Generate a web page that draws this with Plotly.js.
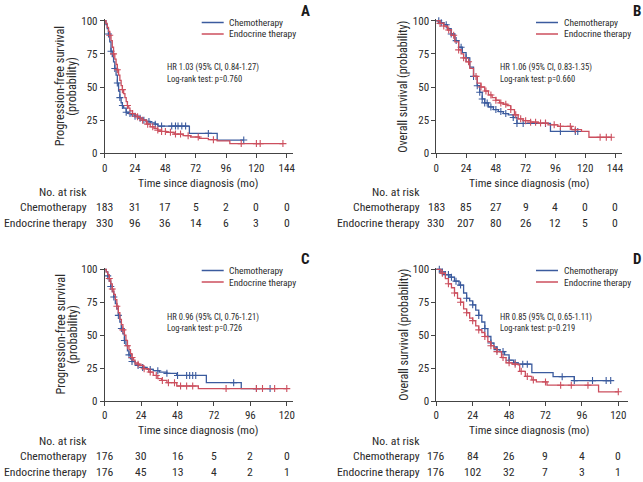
<!DOCTYPE html>
<html><head><meta charset="utf-8">
<script src="https://cdn.plot.ly/plotly-3.0.1.min.js"></script>
<style>html,body{margin:0;padding:0;background:#fff}#chart{width:643px;height:482px}</style>
</head><body><div id="chart"></div>
<script>
// ---------------- DATA ----------------
const groups = ["Chemotherapy", "Endocrine therapy"];
const panelLetters = ["A", "B", "C", "D"];
const hrText = ["HR 1.03 (95% CI, 0.84-1.27)", "HR 1.06 (95% CI, 0.83-1.35)", "HR 0.96 (95% CI, 0.76-1.21)", "HR 0.85 (95% CI, 0.65-1.11)"];
const pText = ["Log-rank test: p=0.760", "Log-rank test: p=0.660", "Log-rank test: p=0.726", "Log-rank test: p=0.219"];
const yTitles = [["Progression-free survival", "(probability)"], ["Overall survival (probability)"], ["Progression-free survival", "(probability)"], ["Overall survival (probability)"]];
const xTitle = "Time since diagnosis (mo)";
const riskLabel = "No. at risk";
const ticksTop = [0, 24, 48, 72, 96, 120, 144];
const ticksBottom = [0, 24, 48, 72, 96, 120];
const yTicks = [0, 25, 50, 75, 100];

// Panel A: progression-free survival
const aChemoT = [0,1,2,3,4,5,6,7,8,9,10,11,12,13,14,15,17,19,21,24,27,30,33,36,40,42,67,89,110];
const aChemoS = [100,97,94,90,84,77,73,69,64,59,53,47,42,38,36,34,31,30,29,28,26.5,25,24,23,22,20.5,15,10,10];
const aEndoT = [0,1,2,3,4,5,6,7,8,9,10,11,12,13,14,15,16,17,18,19,20,22,24,26,28,30,33,36,39,42,45,49,55,62,68,75,82,89,99,141];
const aEndoS = [100,98,95,92,89,85,80,75,71,67,63,59,55,51,48,45,42,39,36,34,32,30,29,27.5,26,25,22,20,18.8,17.5,16.5,15.8,14.5,13.3,12.3,11.3,10.3,9.3,7.3,7.3];
const aChemoCens = [3,5,8,10,12,14,17,20,24,28,31,35,40,45,53,56,58,61,64,82,110];
const aEndoCens = [4,7,10,14,18,22,26,30,34,38,42,45,48,52,56,60,66,74,86,108,120,123,141];
const aRiskChemo = [183, 31, 17, 5, 2, 0, 0];
const aRiskEndo = [330, 96, 36, 14, 6, 3, 0];

// Panel B: overall survival
const bChemoT = [0,3,6,9,12,15,18,21,24,27,30,33,35,37,39,42,46,50,54,58,62,65,92,114];
const bChemoS = [100,98.5,97,94,90,85,80,76,72,65,58,51,46,41,38,35,33,31.5,30,29,27,22.5,16.5,16.5];
const bEndoT = [0,3,6,9,12,15,18,20,22,24,27,30,33,36,39,42,45,48,51,54,57,60,63,66,70,76,82,90,98,109,117,123,141];
const bEndoS = [100,98,96,93,89,84,78,75,72,69,64,58,53,50,47,44,42,40,38,37,36,33,29,26,24.6,23.5,22.8,21.5,20.3,17.8,16.6,12.1,12.1];
const bChemoCens = [2,4,8,12,16,20,24,30,33,35,37,39,41,44,48,52,56,62,65,70,88,100,112,114];
const bEndoCens = [3,6,10,14,18,22,26,32,36,40,44,48,52,56,60,64,68,72,76,80,84,88,95,100,108,112,132,137,141];
const bRiskChemo = [183, 85, 27, 9, 4, 0, 0];
const bRiskEndo = [330, 207, 80, 26, 12, 5, 0];

// Panel C: progression-free survival
const cChemoT = [0,1,2,3,4,5,6,7,8,9,10,11,12,13,14,15,16,17,18,20,22,25,28,32,36,41,47.5,67,90,109];
const cChemoS = [100,98,95,91,87,83,79,74,70,65,60,55,51,46,42,38,35,32,30,28,27,25.5,24,23,22,21,19.4,13.9,9.4,9.4];
const cEndoT = [0,1,2,3,4,5,6,7,8,9,10,11,12,13,14,15,16,17,18,19,20,22,23,25.5,29,32,35,37.5,41,47.5,61.7,120];
const cEndoS = [100,98,96,93,89,85,81,77,72,67,62,58,54,50,46,42,39,36,33,31,29,28,27,24.5,22,19.4,17,15.6,13.9,11.4,9.4,9.4];
const cChemoCens = [2,4,6,9,11,13,16,18,22,25,30,35,41,48,54,56,58,60,85,100,109];
const cEndoCens = [3,5,8,12,15,18,22,26,30,34,38,42,46,50,54,58,80,100,104,112,120];
const cRiskChemo = [176, 30, 16, 5, 2, 0];
const cRiskEndo = [176, 45, 13, 4, 2, 1];

// Panel D: overall survival
const dChemoT = [0,3,6,9,12,15,18,20,22,24,26,28,30,32,34,36,38,40,42,45,48,51,54,63,77,91,115];
const dChemoS = [100,98,96,94,91,88,82,78,76,73,69,65,60,55,49,44,41,39,37.5,35,31,29,28,21.5,18.5,15.5,15.5];
const dEndoT = [0,3,6,8,10,12,14,16,18,20,22,24,26,28,30,32,34,36,38,40,43,46,50,54,55,58.7,63,66,73,107,120];
const dEndoS = [100,97,93,89,86,82,78,75,70,67,63,61,57,54,52,49,45,42,40,37.5,33,29,28,27.5,22.5,18.7,16,14.5,12,7,7];
const dChemoCens = [2,4,6,8,10,13,16,20,24,28,32,36,40,44,48,52,57,60,83,91,103,112,115];
const dEndoCens = [4,8,12,16,20,24,28,32,36,40,44,48,52,56,60,64,72,82,89,100,120];
const dRiskChemo = [176, 84, 26, 9, 4, 0];
const dRiskEndo = [176, 102, 32, 7, 3, 1];

// ---------------- STYLE / LAYOUT ----------------
const W = 643, H = 482;
const F = "'Roboto Condensed', 'DejaVu Sans Condensed', sans-serif";
const BLUE = "#3b5b9e", RED = "#cc4f5e", AX = "#444", TXT = "#2b2b2b";
const px = v => v / W, py = v => 1 - v / H;

const panels = [
  {sx: "", curves: [[aChemoT, aChemoS, aChemoCens], [aEndoT, aEndoS, aEndoCens]], risk: [aRiskChemo, aRiskEndo], ticks: ticksTop,
   x0: 104.7, x1: 293.3, range: 149.2, yb: 153.3, yt: 19.4, left: 0, top: 0},
  {sx: "2", curves: [[bChemoT, bChemoS, bChemoCens], [bEndoT, bEndoS, bEndoCens]], risk: [bRiskChemo, bRiskEndo], ticks: ticksTop,
   x0: 436.3, x1: 621.7, range: 149.4, yb: 153.3, yt: 19.4, left: 331.6, top: 0},
  {sx: "3", curves: [[cChemoT, cChemoS, cChemoCens], [cEndoT, cEndoS, cEndoCens]], risk: [cRiskChemo, cRiskEndo], ticks: ticksBottom,
   x0: 104.7, x1: 293.3, range: 124.3, yb: 401, yt: 268, left: 0, top: 248},
  {sx: "4", curves: [[dChemoT, dChemoS, dChemoCens], [dEndoT, dEndoS, dEndoCens]], risk: [dRiskChemo, dRiskEndo], ticks: ticksBottom,
   x0: 436.3, x1: 628.3, range: 126.6, yb: 401, yt: 268, left: 331.6, top: 248}
];
const colors = [BLUE, RED];

function stepAt(t, s, tc) { let v = s[0]; for (let i = 0; i < t.length; i++) { if (t[i] <= tc) v = s[i]; } return v; }

const data = [], annotations = [], shapes = [];
const layout = {width: W, height: H, margin: {l: 0, r: 0, t: 0, b: 0}, paper_bgcolor: "#fff", plot_bgcolor: "#fff",
  showlegend: false, font: {family: F, color: TXT}};

panels.forEach((p, k) => {
  const xa = "x" + p.sx, ya = "y" + p.sx;
  p.curves.forEach((c, g) => {
    data.push({type: "scatter", mode: "lines", x: c[0], y: c[1], xaxis: xa, yaxis: ya,
      line: {shape: "hv", color: colors[g], width: 1.3}, cliponaxis: false, name: groups[g]});
    data.push({type: "scatter", mode: "markers", x: c[2], y: c[2].map(tc => stepAt(c[0], c[1], tc)), xaxis: xa, yaxis: ya,
      marker: {symbol: "cross-thin", size: 5, line: {width: 1.1, color: colors[g]}, color: colors[g]}, cliponaxis: false, name: groups[g]});
  });
  const axCommon = {showgrid: false, zeroline: false, showline: true, linecolor: AX, linewidth: 1, ticks: "outside", ticklen: 4, tickcolor: AX,
    tickfont: {family: F, size: 11, color: TXT}, fixedrange: true};
  layout["xaxis" + p.sx] = Object.assign({}, axCommon, {domain: [px(p.x0), px(p.x1)], range: [0, p.range], tickvals: p.ticks, anchor: ya});
  layout["yaxis" + p.sx] = Object.assign({}, axCommon, {domain: [py(p.yb), py(p.yt)], range: [0, 101], tickvals: yTicks, anchor: xa});

  const L = p.left, T = p.top;
  // panel letter
  annotations.push({xref: "paper", yref: "paper", x: px(L + 305), y: py(T + 11), text: "<b>" + panelLetters[k] + "</b>", showarrow: false,
    font: {family: F, size: 15, color: "#1a1a1a"}, xanchor: "center", yanchor: "middle"});
  // legend
  const legX0 = L + (k % 2 ? 204.4 : 201.7), legX1 = legX0 + 22;
  const legY = [T + 22.5, T + 34];
  groups.forEach((g, i) => {
    shapes.push({type: "line", xref: "paper", yref: "paper", x0: px(legX0), x1: px(legX1), y0: py(legY[i]), y1: py(legY[i]), line: {color: colors[i], width: 1.5}});
    annotations.push({xref: "paper", yref: "paper", x: px(legX1 + 3.5), y: py(legY[i]), text: g, showarrow: false,
      font: {family: F, size: 9.5, color: TXT}, xanchor: "left", yanchor: "middle"});
  });
  // HR text
  const hx = L + (k % 2 ? 166.7 : 165);
  const hy = T + (k < 2 ? 68 : 69);
  annotations.push({xref: "paper", yref: "paper", x: px(hx), y: py(hy), text: hrText[k], showarrow: false, font: {family: F, size: 8.5, color: TXT}, xanchor: "left", yanchor: "middle"});
  annotations.push({xref: "paper", yref: "paper", x: px(hx), y: py(hy + 11.3), text: pText[k], showarrow: false, font: {family: F, size: 8.5, color: TXT}, xanchor: "left", yanchor: "middle"});
  // y title
  const yc = (p.yb + p.yt) / 2;
  if (yTitles[k].length === 2) {
    annotations.push({xref: "paper", yref: "paper", x: px(L + 60), y: py(yc), text: yTitles[k][0], textangle: -90, showarrow: false, font: {family: F, size: 12.3, color: TXT}, xanchor: "center", yanchor: "middle"});
    annotations.push({xref: "paper", yref: "paper", x: px(L + 72.5), y: py(yc), text: yTitles[k][1], textangle: -90, showarrow: false, font: {family: F, size: 12.3, color: TXT}, xanchor: "center", yanchor: "middle"});
  } else {
    annotations.push({xref: "paper", yref: "paper", x: px(L + 71.7), y: py(yc), text: yTitles[k][0], textangle: -90, showarrow: false, font: {family: F, size: 12, color: TXT}, xanchor: "center", yanchor: "middle"});
  }
  // x title
  const xtY = k < 2 ? 182.7 : 430;
  annotations.push({xref: "paper", yref: "paper", x: px(L + 197.5), y: py(xtY), text: xTitle, showarrow: false, font: {family: F, size: 11.5, color: TXT}, xanchor: "center", yanchor: "middle"});
  // risk table
  const rY = k < 2 ? [191.7, 206.7, 222.7] : [440.7, 455.7, 471.7];
  const lblX = L + (k % 2 ? 90.1 : 88.5);
  annotations.push({xref: "paper", yref: "paper", x: px(lblX), y: py(rY[0]), text: riskLabel, showarrow: false, font: {family: F, size: 11.7, color: TXT}, xanchor: "right", yanchor: "middle"});
  groups.forEach((g, i) => {
    annotations.push({xref: "paper", yref: "paper", x: px(lblX), y: py(rY[i + 1]), text: g, showarrow: false, font: {family: F, size: 11.7, color: TXT}, xanchor: "right", yanchor: "middle"});
    p.risk[i].forEach((n, j) => {
      annotations.push({xref: xa, yref: "paper", x: p.ticks[j], y: py(rY[i + 1]), text: String(n), showarrow: false, font: {family: F, size: 11.7, color: TXT}, xanchor: "center", yanchor: "middle"});
    });
  });
});
layout.annotations = annotations;
layout.shapes = shapes;
Plotly.newPlot("chart", data, layout, {staticPlot: true, displayModeBar: false});
</script></body></html>
